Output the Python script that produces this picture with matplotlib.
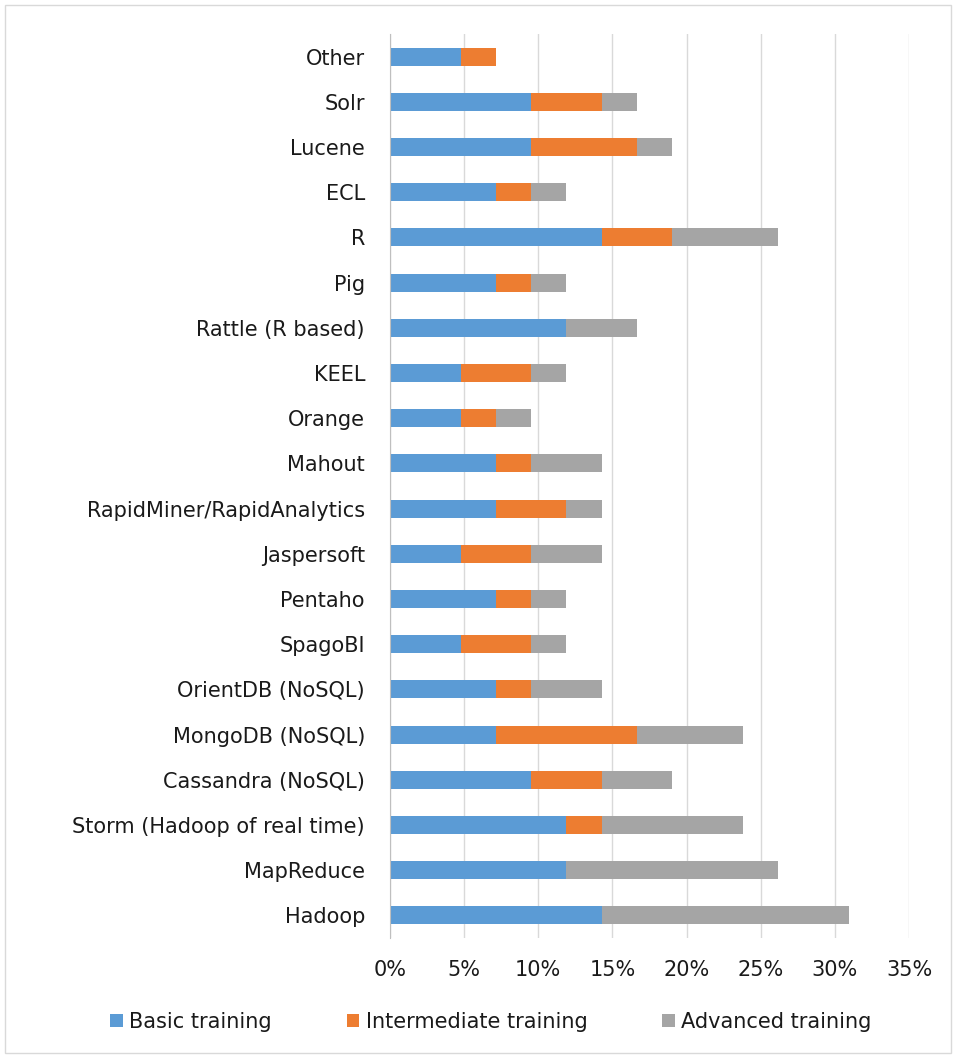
import matplotlib
matplotlib.use("Agg")
import matplotlib.pyplot as plt
from matplotlib.patches import Rectangle

categories = ["Hadoop", "MapReduce", "Storm (Hadoop of real time)", "Cassandra (NoSQL)",
              "MongoDB (NoSQL)", "OrientDB (NoSQL)", "SpagoBI", "Pentaho", "Jaspersoft",
              "RapidMiner/RapidAnalytics", "Mahout", "Orange", "KEEL", "Rattle (R based)",
              "Pig", "R", "ECL", "Lucene", "Solr", "Other"]
basic = [14.29, 11.90, 11.90, 9.52, 7.14, 7.14, 4.76, 7.14, 4.76, 7.14, 7.14, 4.76, 4.76,
         11.90, 7.14, 14.29, 7.14, 9.52, 9.52, 4.76]
intermediate = [0, 0, 2.38, 4.76, 9.52, 2.38, 4.76, 2.38, 4.76, 4.76, 2.38, 2.38, 4.76,
                0, 2.38, 4.76, 2.38, 7.14, 4.76, 2.38]
advanced = [16.67, 14.29, 9.52, 4.76, 7.14, 4.76, 2.38, 2.38, 4.76, 2.38, 4.76, 2.38, 2.38,
            4.76, 2.38, 7.14, 2.38, 2.38, 2.38, 0]
series_names = ["Basic training", "Intermediate training", "Advanced training"]
colors = ["#5B9BD5", "#ED7D31", "#A5A5A5"]
xticks = [0, 5, 10, 15, 20, 25, 30, 35]

plt.rcParams['font.family'] = ['DejaVu Sans']
fig = plt.figure(figsize=(9.56, 10.57), dpi=100)
ax = fig.add_axes([390/956, 1-938/1057, (909-390)/956, (938-34)/1057])

y = list(range(len(categories)))
left = [0]*len(categories)
for vals, name, c in zip([basic, intermediate, advanced], series_names, colors):
    ax.barh(y, vals, left=left, height=0.4, color=c, label=name, zorder=3)
    left = [l + v for l, v in zip(left, vals)]

fs = 15
ax.set_xlim(0, 35)
ax.set_ylim(-0.5, len(categories)-0.5)
ax.set_yticks(y)
ax.set_yticklabels(categories, fontsize=fs, color="#1a1a1a")
ax.set_xticks(xticks)
ax.set_xticklabels([f"{t}%" for t in xticks], fontsize=fs, color="#1a1a1a")
ax.tick_params(axis='both', length=0)
ax.tick_params(axis='y', pad=18)
ax.tick_params(axis='x', pad=16)
ax.grid(axis='x', color="#D9D9D9", linewidth=1, zorder=0)
for s in ['top', 'right', 'bottom']:
    ax.spines[s].set_visible(False)
ax.spines['left'].set_color("#BFBFBF")
ax.spines['left'].set_zorder(4)

handles, labels = ax.get_legend_handles_labels()
leg = fig.legend(handles, labels, loc='center', bbox_to_anchor=(491/956, 1-1022/1057), ncol=3,
                 frameon=False, fontsize=fs, handlelength=0.6, handleheight=0.6,
                 handletextpad=0.3, columnspacing=3.6, labelcolor="#1a1a1a")

fig.patches.append(Rectangle((5/956, 4/1057), 946/956, 1048/1057, transform=fig.transFigure,
                             fill=False, edgecolor="#D9D9D9", linewidth=1))
fig.savefig("out.png", dpi=100)
